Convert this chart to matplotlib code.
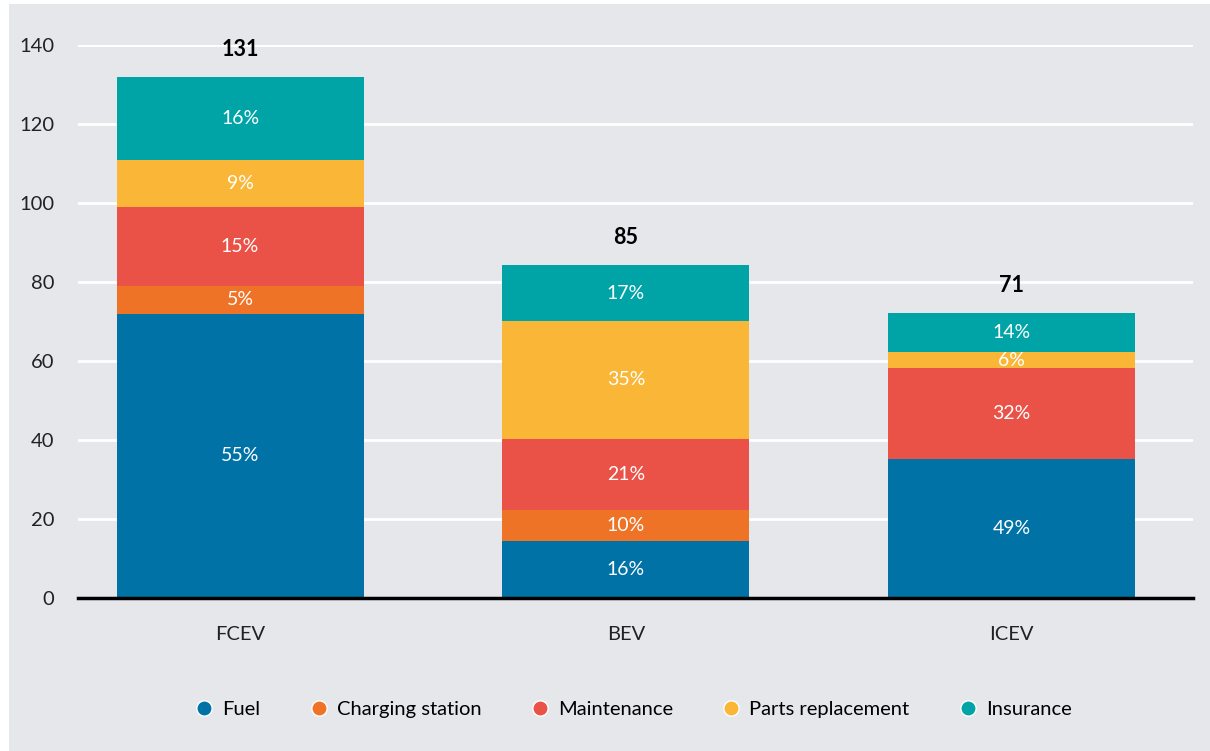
import matplotlib.pyplot as plt
from matplotlib.patches import Rectangle
from matplotlib.lines import Line2D

plt.rcParams['font.family'] = ['Lato', 'DejaVu Sans']

vehicles = ['FCEV', 'BEV', 'ICEV']
components = ['Fuel', 'Charging station', 'Maintenance', 'Parts replacement', 'Insurance']
colors = ['#0072a6', '#ee7326', '#ea5147', '#f9b637', '#00a4a6']

fuel = [72, 14.4, 35.2]
charging = [7, 7.9, 0]
maintenance = [20, 18, 23]
parts = [12, 29.8, 4.1]
insurance = [21, 14.2, 9.9]

pct_fuel = ['55%', '16%', '49%']
pct_charging = ['5%', '10%', '']
pct_maintenance = ['15%', '21%', '32%']
pct_parts = ['9%', '35%', '6%']
pct_insurance = ['16%', '17%', '14%']

totals = [131, 85, 71]

series = [fuel, charging, maintenance, parts, insurance]
pct_labels = [pct_fuel, pct_charging, pct_maintenance, pct_parts, pct_insurance]

bg = '#e6e7eb'
fig = plt.figure(figsize=(12.1, 7.51), dpi=100)
fig.patches.append(Rectangle((9 / 1210, 0), 1, 1 - 4 / 751, transform=fig.transFigure,
                             facecolor=bg, edgecolor='none', zorder=-10))
ax = fig.add_axes([78 / 1210, 1 - 598 / 751, (1193 - 78) / 1210, (598 - 45) / 751])
ax.set_facecolor(bg)

x = range(len(vehicles))
bottoms = [0, 0, 0]
for vals, labs, c, name in zip(series, pct_labels, colors, components):
    ax.bar(x, vals, width=0.64, bottom=bottoms, color=c, label=name, zorder=3)
    for i in x:
        if labs[i]:
            ax.text(i, bottoms[i] + vals[i] / 2, labs[i], ha='center', va='center',
                    color='white', fontsize=14, zorder=4)
    bottoms = [b + v for b, v in zip(bottoms, vals)]

for i in x:
    ax.text(i, bottoms[i] + 4.3, str(totals[i]), ha='center', va='bottom',
            fontsize=15.5, fontweight='bold', color='black', clip_on=False)

ax.set_xlim(-0.42, 2.47)
ax.set_ylim(0, 140)
ax.set_yticks(range(0, 141, 20))
ax.set_xticks(list(x))
ax.set_xticklabels(vehicles)
ax.yaxis.grid(True, color='white', linewidth=2, zorder=0)
ax.tick_params(axis='both', length=0, labelsize=14.5, colors='#222222')
ax.tick_params(axis='y', pad=17)
ax.tick_params(axis='x', pad=20)
for s in ['top', 'right', 'left']:
    ax.spines[s].set_visible(False)
ax.spines['bottom'].set_linewidth(2.5)
ax.spines['bottom'].set_color('black')
ax.spines['bottom'].set_zorder(5)

handles = [Line2D([], [], marker='o', linestyle='none', markersize=11, markerfacecolor=c,
                  markeredgecolor='white', markeredgewidth=1) for c in colors]
fig.legend(handles, components, loc='center', bbox_to_anchor=(0.523, 1 - 709 / 751),
           ncol=5, frameon=False, fontsize=14.5, handlelength=1.0, handletextpad=0.4,
           columnspacing=2.4)

fig.savefig('out.png', dpi=100, facecolor='white')
